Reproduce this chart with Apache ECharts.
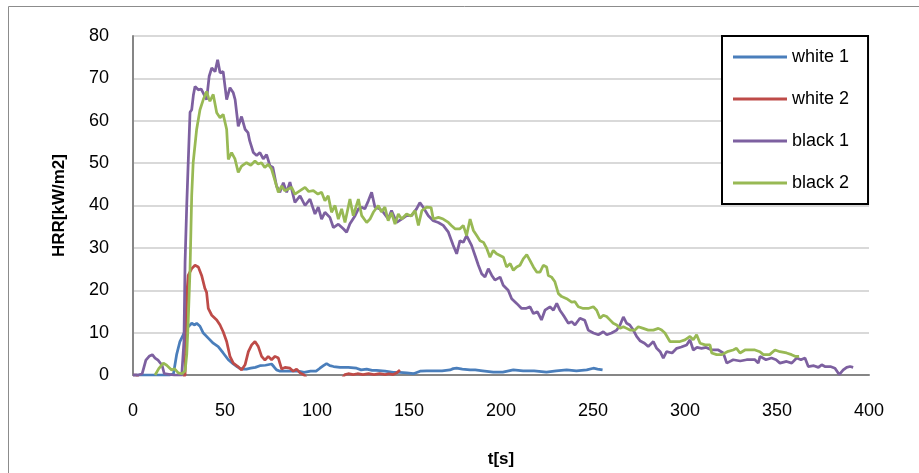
<!DOCTYPE html>
<html>
<head>
<meta charset="utf-8">
<script src="https://cdn.jsdelivr.net/npm/echarts@6/dist/echarts.min.js"></script>
<style>
html,body{margin:0;padding:0;background:#fff;}
#chart{width:919px;height:473px;}
</style>
</head>
<body>
<div id="chart"></div>
<script>
// Series names
const seriesNames = ['white 1', 'white 2', 'black 1', 'black 2'];
// Axis ticks
const xTicks = [0, 50, 100, 150, 200, 250, 300, 350, 400];
const yTicks = [0, 10, 20, 30, 40, 50, 60, 70, 80];

// [t (s), HRR (kW/m2)]
const white1 = [[0,0],[5,0],[10,0],[15,0],[20,0],[22,0.3],[23.7,4.8],[25.5,7.9],[27.3,9.5],[29.2,11],[31.9,12.2],[33.5,11.8],[34.6,12.2],[36.4,11.5],[38.2,9.9],[40.9,8.7],[43.6,7.5],[46.3,6.7],[49,5.2],[51.8,3.6],[54.5,2.6],[56.5,2],[58,1.6],[60,1.4],[61.7,1.4],[64,1.6],[66.5,1.8],[69,2.2],[72,2.3],[75.3,2.6],[76.5,2],[78,1.2],[79.9,0.9],[83,0.9],[86.5,0.9],[89.8,0.9],[93,0.6],[96.5,0.9],[99.5,0.9],[101.6,1.6],[103.5,2.2],[105.2,2.7],[107,2.2],[109,2],[112.5,1.8],[117,1.8],[121.5,1.6],[124,1.2],[127,1.4],[130,1.1],[132.4,1.1],[137,0.9],[141.4,0.6],[145,0.6],[148.7,0.5],[152.4,0.3],[156,0.9],[159.6,1],[164,1],[168,1],[172.3,1.2],[174,1.5],[175.9,1.6],[179,1.4],[183.2,1.2],[186,1.2],[190,1],[195.8,0.7],[201,0.7],[206.7,1.2],[212,1],[218,1],[224.7,0.7],[230,1],[235.7,1.2],[241,1],[246.6,1.2],[250.2,1.6],[252.5,1.4],[255.2,1.2]];

const white2 = [[0,0],[2,0],[3,-1],[10,-1.5],[20,-1.5],[27,-1],[28.3,0],[29.2,18.8],[30,23.5],[31.9,25.1],[33.7,25.9],[35.5,25.5],[37.3,23.5],[39.1,20.4],[40,19.5],[40.9,15.7],[42.8,14.1],[45.5,13],[47.3,11.8],[49,10.2],[50.9,7.9],[52.7,4.4],[54.5,2.8],[55.4,2.4],[57,2],[59,1.2],[59.9,0.9],[60.9,2.4],[62.7,5.5],[64.5,7.1],[66.3,7.9],[68.1,6.7],[69.9,4.4],[71.7,3.5],[73.5,4.4],[75.3,3.6],[77.2,4.4],[79,4],[80.8,1.4],[82.6,1.8],[85.3,1.6],[87.1,0.9],[88.9,1.4],[90.8,0.5],[93,0],[95,-1.2],[100,-1.5],[105,-1.5],[110,-1.5],[113.5,-1],[115.2,0.1],[117,0.3],[119.7,0.1],[122,0.3],[125,0.1],[128,0.3],[131,0.1],[134,0.3],[137,0.1],[139,0.3],[141.4,0.1],[143.3,0.5],[145.1,1.2]];

const black1 = [[0,0],[3,0],[5,0.3],[7,3.5],[9,4.5],[10.5,4.8],[12,4],[13.6,3.5],[15.8,2.3],[17,0.3],[18,0],[22,0],[26.5,0],[27.7,8],[28.3,26.7],[29.2,40],[30,50],[31,62],[31.9,62.6],[32.8,66],[33.7,68.1],[35.5,67.3],[37,67.5],[38.2,66.5],[40,65],[41.4,70.5],[42.8,72.5],[44.6,71.6],[46,74.4],[47.3,71.3],[49,71.6],[50.9,65],[52.7,67.8],[54.5,66.6],[55.5,65],[57.2,58.7],[59,61],[60.9,58],[62.5,57.2],[63.4,55.3],[65.4,52.5],[67.2,51.8],[69,52.5],[70.8,51],[72.6,52],[74.5,49.3],[76,49],[78,44.6],[79.8,43.1],[81.7,45.4],[83.5,43.1],[85.3,45.5],[88,40.7],[90.8,42.3],[93.5,40],[96.2,41.5],[98.9,38],[100.7,39.6],[102.5,36.8],[104.3,38.4],[107,37.2],[108.9,34.8],[111.6,35.6],[114.3,34.5],[116.1,33.7],[117.9,35.7],[120.7,37.6],[122.5,39.2],[124.3,39.6],[126,39.2],[127.9,41.1],[129.7,43.1],[131.5,39.6],[134.2,39.2],[136,38.4],[138.7,36.8],[140.5,38.8],[143.3,36],[146,36.8],[148.7,37.6],[151.4,37.6],[154.1,39.2],[155.9,40.7],[157.7,39.6],[160.5,37.6],[163.2,36.4],[165.9,36],[168.6,35.3],[171.4,33.7],[174,30.6],[175.9,28.6],[177.7,31.7],[179.5,31.3],[181.3,32.9],[182.2,32.5],[184,30.6],[185.9,28.2],[187.7,25.9],[189.5,23.9],[191.3,23.1],[193.1,25.1],[195,23.5],[196.7,22.4],[199.5,23.1],[201.2,21.2],[203.9,20],[205.8,18],[208.5,16.9],[211.2,15.7],[213.5,15.7],[215.8,16.1],[217.6,14.5],[219.8,14.9],[222,13],[223.9,15.3],[226.6,16.1],[228.5,15.3],[230.3,16.9],[232,15.3],[233.9,14.1],[236.6,12.2],[238.4,12.6],[240.2,11.8],[242.9,13.4],[245.5,12.9],[247.4,10.6],[250.2,9.9],[252.9,9.5],[255.6,10.2],[257.5,9.5],[260.1,9.9],[262.9,10.6],[264.7,11.8],[266.5,13.7],[268.3,12.2],[270,11.8],[271.9,10.6],[273.7,9.1],[275.5,8.1],[278,7.5],[280,6.7],[282.8,7.9],[284.6,6.3],[286.5,5.5],[288.2,4],[290,5.5],[293,5.2],[295.5,6.3],[298,6.6],[300.9,7.1],[302.7,8.3],[304.5,5.9],[306.5,6.5],[309,6.3],[311.5,6.5],[314.5,5.9],[318.1,5.9],[320.8,5.2],[322.7,2.8],[326.2,3.6],[330,3.3],[333.5,3.6],[338,3.6],[339.8,2.8],[340.8,4.4],[344,3.6],[347,4],[349.5,3.6],[351.6,2.8],[355.2,3.2],[358,2.8],[360.7,4],[363,3.6],[365.2,4],[367,2],[370,2.2],[372.5,1.8],[374.3,2.4],[376,2],[379,2],[381.5,1.6],[383.8,0.1],[386,1.2],[387.9,1.8],[389.7,2],[391.4,1.8]];

const black2 = [[12,0],[14,1.5],[16.5,2.8],[18.3,2.3],[21,1.2],[22.5,1.5],[24.6,0.5],[26.5,0.3],[28.3,0.9],[29.2,4.8],[30,12.6],[31,25],[31.5,34.5],[31.9,42.3],[32.7,50.1],[34.6,58],[36.4,62.6],[38.2,65],[40,66.9],[41,65.5],[41.8,64.6],[43.6,66.2],[45.5,61.9],[47.3,60.7],[49,61.5],[50.9,58],[51.8,50.9],[53.6,52.5],[55.4,51],[57.2,47.8],[59,49.3],[61.7,50.1],[64,49.5],[66.3,50.5],[68,49.8],[69.8,50.1],[71.6,49],[73.5,49.7],[75.3,48.6],[77.2,45.8],[79,43.1],[80.8,44.6],[82.5,43.5],[83.4,43.1],[86.2,44.3],[88,42.7],[90.8,43.5],[93.5,44.3],[95.5,43.3],[98,43.5],[100.5,42.7],[102.5,43.1],[104.3,41.1],[106.1,42.3],[107.9,38.4],[109.8,40],[111.6,36.8],[113.4,39.2],[115.2,36],[117.9,41.5],[119.7,37.6],[122.5,41.5],[124.3,37.6],[127,36],[128.8,36.8],[130.6,38.4],[133.3,40],[135,38.5],[136.9,39.6],[138.7,36.4],[140.5,38.3],[142.4,35.6],[144.2,38],[146,36.8],[148.7,38],[151,37.5],[153.3,38.8],[155.1,35.3],[157,38.8],[159.6,39.6],[162,39.5],[163.2,36.8],[166,37.2],[168.6,36.8],[171.4,36],[173,35.3],[175,34.5],[177.7,34.5],[179.5,35.3],[181.3,32.9],[183.2,36.8],[185,34.1],[186.8,32.9],[188.6,31.7],[190.5,31.3],[192.3,29.8],[194,27.8],[195.8,29.4],[197.6,28.6],[199.5,28.2],[201.3,27.8],[203,25.5],[205,26.3],[206.7,24.7],[208.5,25.5],[210.3,25.9],[212.1,27.4],[214,28.4],[215.8,27],[217.6,25.5],[219.4,24.3],[221.2,24.3],[223,25.9],[224.8,25.5],[225.7,23.5],[227.5,23.1],[229.3,22],[231.2,19.2],[233,18.5],[235.7,18],[238.4,17.2],[240.2,17.3],[242,16.1],[244.7,15.7],[247.4,15.7],[250.2,16.1],[252,15.3],[253.8,13.4],[255.6,14.1],[257.4,13.8],[259.2,13],[261,12.2],[262.9,11.8],[264.7,11],[266.5,11.4],[268.3,11],[270.1,10.6],[272.8,10.6],[274.6,11.4],[277.3,11],[280,10.6],[282.8,10.6],[285.5,11],[287.3,10.6],[289.1,9.9],[291.8,7.9],[294.5,7.9],[297.3,7.9],[300,8.3],[302.7,9.1],[304.5,8.3],[306.3,9.5],[308.2,7.5],[310.9,7.1],[313.6,7.1],[314.5,5.2],[317.2,4.8],[320,4.8],[323,5.5],[326.2,5.9],[328,6.3],[329.9,5.2],[332.6,5.9],[335.3,5.9],[338,5.9],[340.7,5.5],[342.6,4.8],[346,4.8],[348.9,5.9],[351.6,5.5],[355.2,5.2],[357.9,4.8],[359.8,4.4],[362,4.4]];

const seriesData = [white1, white2, black1, black2];
const colors = ['#4A7EBB', '#BE4B48', '#7D60A0', '#98B954'];

const FONT = '"Liberation Sans", Arial, sans-serif';
const chart = echarts.init(document.getElementById('chart'), null, {renderer: 'canvas'});

chart.setOption({
  animation: false,
  backgroundColor: '#fff',
  color: colors,
  graphic: [{
    type: 'rect',
    shape: {x: 8.5, y: 6.5, width: 1000, height: 1000},
    style: {fill: 'none', stroke: '#8c8c8c', lineWidth: 1},
    z: -10, silent: true
  }],
  grid: {left: 133, top: 36, right: 50, bottom: 96, containLabel: false},
  legend: {
    orient: 'vertical',
    left: 722, top: 36,
    data: seriesNames,
    icon: 'rect',
    backgroundColor: '#fff',
    borderColor: '#000', borderWidth: 2,
    padding: [12, 19, 12, 11],
    itemGap: 24,
    itemWidth: 54, itemHeight: 3,
    textStyle: {fontFamily: FONT, fontSize: 18, color: '#000', lineHeight: 18}
  },
  xAxis: {
    type: 'value', min: xTicks[0], max: xTicks[xTicks.length - 1], interval: 50,
    name: 't[s]', nameLocation: 'middle', nameGap: 76,
    nameTextStyle: {fontFamily: FONT, fontSize: 17, fontWeight: 'bold', color: '#000'},
    axisLine: {show: true, lineStyle: {color: '#868686', width: 2}},
    axisTick: {show: false},
    axisLabel: {fontFamily: FONT, fontSize: 18, color: '#000', margin: 27},
    splitLine: {show: false}
  },
  yAxis: {
    type: 'value', min: yTicks[0], max: yTicks[yTicks.length - 1], interval: 10,
    name: 'HRR[kW/m2]', nameLocation: 'middle', nameGap: 65,
    nameTextStyle: {fontFamily: FONT, fontSize: 17, fontWeight: 'bold', color: '#000'},
    axisLine: {show: true, lineStyle: {color: '#868686', width: 2}},
    axisTick: {show: false},
    axisLabel: {fontFamily: FONT, fontSize: 18, color: '#000', margin: 24},
    splitLine: {show: true, lineStyle: {color: '#d9d9d9', width: 2}}
  },
  series: seriesNames.map((n, i) => ({
    name: n, type: 'line', data: seriesData[i],
    showSymbol: false, symbol: 'none', clip: true,
    lineStyle: {width: 2.75, color: colors[i]},
    itemStyle: {color: colors[i]}
  }))
});
</script>
</body>
</html>
